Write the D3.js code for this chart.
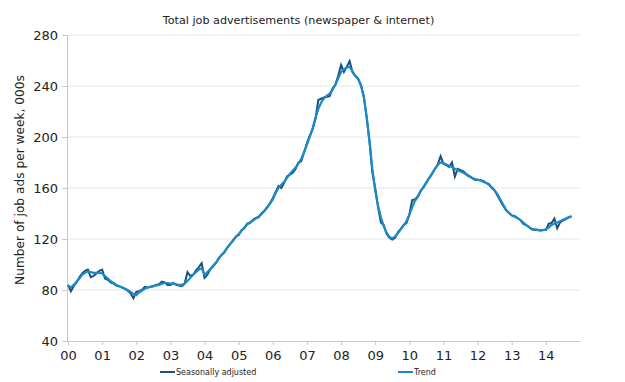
<!DOCTYPE html>
<html>
<head>
<meta charset="utf-8">
<script src="https://cdn.jsdelivr.net/npm/d3@7"></script>
<style>
  body { margin: 0; background: #fff; }
  text { font-family: "DejaVu Sans", Verdana, sans-serif; fill: #222; }
</style>
</head>
<body>
<div id="viz"></div>
<script>

// monthly values, Jan 2000 onwards, 000s of job ads per week
var seasonally_adjusted = [
	84, 79, 83, 86, 90, 93, 95, 96, 90, 91, 93, 95,
	96, 89, 88, 86, 85, 83.5, 83, 82, 81, 79.5, 77.5, 73.5,
	78.5, 79, 80, 82.5, 82, 82.5, 83, 84, 84.5, 86.5, 86, 84,
	84, 85.5, 84, 83.5, 83, 85, 94, 91, 92, 95.5, 98, 101,
	89.5, 92, 96, 98.5, 101, 105, 107.5, 109.5, 113.5, 116, 118.5, 122,
	123, 127, 128.5, 132, 132.5, 135, 136.5, 137, 140, 142, 145, 148,
	152, 157, 161.5, 160, 164, 169, 170.5, 172, 175, 180, 181, 188,
	195, 201, 206, 214, 229, 230, 231, 231.5, 232, 238, 241, 248,
	256.5, 251, 255, 259.5, 251, 248, 245.5, 241, 231, 215, 196, 172,
	160, 145, 133, 131, 124, 121, 119.5, 121, 125.5, 128, 131, 132.5,
	139, 150.5, 151, 153.5, 158, 160.5, 164.5, 168, 171, 175, 178.5, 185,
	179, 178, 176.5, 180, 169, 175, 174, 173, 171, 169.5, 168, 166.5,
	166.5, 166, 165.5, 164, 163, 160, 158, 154, 150, 146, 142.5, 140.5,
	138.5, 138, 136.5, 135, 132, 131, 129.5, 127.5, 127, 127.5, 126.5, 127,
	127, 132, 132.5, 136, 128.5, 133, 134.5, 135.5, 137, 138
];

var trend = [
	83.5, 82, 84, 86.5, 89, 92, 93.5, 94.5, 94, 93.5, 93.5, 93.5,
	93, 91, 89, 87, 85.5, 84, 83, 82, 81, 80, 78.5, 77,
	76, 78, 79.5, 81, 82, 82.5, 83, 83.5, 84, 85, 85.5, 85.5,
	85, 85, 84.5, 84, 84, 85, 87, 89.5, 92, 94, 96, 97,
	92, 94, 96.5, 99, 101.5, 104.5, 107.5, 110, 113, 116, 119, 121.5,
	124, 126.5, 129, 131.5, 133, 134.5, 136, 137.5, 139.5, 142, 144.5, 147.5,
	151, 156, 160, 162.5, 165, 168, 171, 173.5, 176, 179, 183, 188,
	194, 200, 207, 215, 222, 227, 230.5, 232.5, 234, 237, 241, 246,
	251, 253, 254.5, 255, 251.5, 248, 246, 240, 232, 216, 197, 175,
	158, 146, 137, 130, 125, 121.5, 120.5, 122, 124.5, 127.5, 130.5, 134,
	139, 145, 150, 153, 157.5, 161, 164, 168, 171.5, 175, 178, 180,
	179.5, 178.5, 177.5, 176.5, 175, 174, 173, 172, 170.5, 169, 168, 167,
	166.5, 166, 165, 164, 162.5, 160.5, 158, 155, 151, 147, 143, 140.5,
	138.5, 137.5, 136.5, 135, 133, 131, 129.5, 128, 127.5, 127, 127, 127,
	127.5, 129, 131, 132, 133, 134, 135, 136, 137, 137.5
];

var start_year = 2000;
var year_ticks = [2000, 2001, 2002, 2003, 2004, 2005, 2006, 2007, 2008, 2009, 2010, 2011, 2012, 2013, 2014];
var y_ticks = [40, 80, 120, 160, 200, 240, 280];

var viz = { width: 625, height: 382 };
var plot = { left: 68, right: 580, top: 35, bottom: 341 };

var svg = d3.select("#viz")
	.append("svg")
	.attr("width", viz.width)
	.attr("height", viz.height);

var x = d3.scaleLinear().domain([2000, 2015]).range([plot.left, plot.right]);
var y = d3.scaleLinear().domain([40, 280]).range([plot.bottom, plot.top]);

// gridlines
svg.selectAll(".grid")
	.data(y_ticks.slice(1)).enter()
	.append("line")
	.attr("class", "grid")
	.attr("x1", plot.left - 1)
	.attr("x2", plot.right)
	.attr("y1", function(d) { return y(d) })
	.attr("y2", function(d) { return y(d) })
	.attr("stroke", "#e2e8ea")
	.attr("stroke-width", 1);

// axes
var yAxis = d3.axisLeft(y).tickValues(y_ticks).tickSize(5).tickPadding(4).tickFormat(d3.format("d"));
var xAxis = d3.axisBottom(x).tickValues(year_ticks).tickSize(4).tickPadding(6)
	.tickFormat(function(d) { return d3.format("02d")(d % 100) });

var gy = svg.append("g")
	.attr("transform", "translate(" + (plot.left - 1) + ",0)")
	.call(yAxis);
var gx = svg.append("g")
	.attr("transform", "translate(0," + plot.bottom + ")")
	.call(xAxis);

[gx, gy].forEach(function(g) {
	g.select(".domain").attr("stroke", "#c8c8c8");
	g.selectAll(".tick line").attr("stroke", "#c8c8c8");
	g.selectAll(".tick text").style("font-size", "13px").attr("fill", "#222");
});
gx.select(".domain").attr("d", "M" + (plot.left - 1) + ",0.5H" + plot.right);

// lines
var line = d3.line()
	.x(function(d, i) { return x(start_year + i / 12) })
	.y(function(d) { return y(d) });

svg.append("path")
	.datum(seasonally_adjusted)
	.attr("d", line)
	.attr("fill", "none")
	.attr("stroke", "#1d4f78")
	.attr("stroke-width", 2);

svg.append("path")
	.datum(trend)
	.attr("d", line)
	.attr("fill", "none")
	.attr("stroke", "#1b8bc8")
	.attr("stroke-width", 2.2);

// title
svg.append("text")
	.attr("x", 298.5)
	.attr("y", 24)
	.attr("text-anchor", "middle")
	.style("font-size", "11.2px")
	.text("Total job advertisements (newspaper & internet)");

svg.append("text")
	.attr("transform", "translate(24,180) rotate(-90)")
	.attr("text-anchor", "middle")
	.style("font-size", "12.2px")
	.text("Number of job ads per week, 000s");

// legend
var legend = [
	{ name: "Seasonally adjusted", color: "#1d4f78", x: 160 },
	{ name: "Trend", color: "#1b8bc8", x: 398 }
];
var lg = svg.selectAll(".legend")
	.data(legend).enter()
	.append("g")
	.attr("class", "legend")
	.attr("transform", function(d) { return "translate(" + d.x + ",372)" });
lg.append("line")
	.attr("x1", 0).attr("x2", 15)
	.attr("stroke", function(d) { return d.color })
	.attr("stroke-width", 2);
lg.append("text")
	.attr("x", 16)
	.attr("y", 3)
	.style("font-size", "8px")
	.text(function(d) { return d.name });

</script>
</body>
</html>
